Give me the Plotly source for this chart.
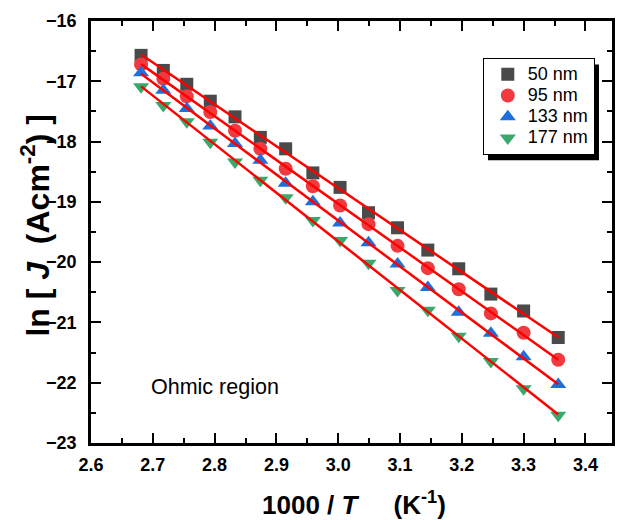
import numpy as np
import plotly.graph_objects as go

# 1000/T (K^-1) measurement points
inv_T = [2.681, 2.717, 2.755, 2.793, 2.833, 2.874, 2.915, 2.959,
         3.003, 3.049, 3.096, 3.145, 3.195, 3.247, 3.300, 3.356]

# ln J for each film thickness
lnJ_50 = [-16.57, -16.82, -17.05, -17.33, -17.59, -17.93, -18.12, -18.52,
          -18.76, -19.18, -19.43, -19.80, -20.11, -20.53, -20.81, -21.25]
lnJ_95 = [-16.72, -16.96, -17.25, -17.51, -17.82, -18.12, -18.45, -18.74,
          -19.06, -19.37, -19.73, -20.10, -20.45, -20.85, -21.17, -21.62]
lnJ_133 = [-16.86, -17.15, -17.45, -17.74, -18.03, -18.31, -18.69, -19.00,
           -19.35, -19.68, -20.03, -20.42, -20.83, -21.18, -21.57, -22.03]
lnJ_177 = [-17.09, -17.40, -17.67, -18.01, -18.34, -18.64, -18.93, -19.31,
           -19.64, -20.02, -20.47, -20.80, -21.23, -21.65, -22.10, -22.54]

series_names = ["50 nm", "95 nm", "133 nm", "177 nm"]
series_values = [lnJ_50, lnJ_95, lnJ_133, lnJ_177]
symbols = ["square", "circle", "triangle-up", "triangle-down"]
colors = ["#4a4a4a", "#f03a3f", "#1e6fdc", "#3aa86a"]
sizes = [13, 14, 14, 14]

x_ticks = [2.6, 2.7, 2.8, 2.9, 3.0, 3.1, 3.2, 3.3, 3.4]
x_tick_text = ["2.6", "2.7", "2.8", "2.9", "3.0", "3.1", "3.2", "3.3", "3.4"]
y_ticks = [-16, -17, -18, -19, -20, -21, -22, -23]

FONT = "Liberation Sans, Arial, sans-serif"

fig = go.Figure()

x_arr = np.array(inv_T)
for name, vals, sym, col, sz in zip(series_names, series_values, symbols, colors, sizes):
    fig.add_trace(go.Scatter(
        x=inv_T, y=vals, mode="markers",
        name=f'<span style="font-size:18px">{name}</span>',
        marker=dict(symbol=sym, color=col, size=sz, line=dict(width=0)),
    ))

# linear Arrhenius fits drawn over the markers
for vals in series_values:
    slope, icpt = np.polyfit(x_arr, np.array(vals), 1)
    xs = [x_arr[0], x_arr[-1]]
    fig.add_trace(go.Scatter(
        x=xs, y=[slope * v + icpt for v in xs], mode="lines",
        line=dict(color="#ff0000", width=2.5), showlegend=False, hoverinfo="skip",
    ))

axis_common = dict(
    showline=True, linecolor="black", linewidth=2.5, mirror="ticks",
    ticks="inside", ticklen=10, tickwidth=2, tickcolor="black",
    showgrid=False, zeroline=False, automargin=False,
    tickfont=dict(family=FONT, size=18, color="black", weight="bold"),
)

fig.update_xaxes(
    range=[2.6, 3.443], tickvals=x_ticks, ticktext=x_tick_text,
    minor=dict(dtick=0.05, ticks="inside", ticklen=5, tickwidth=2, tickcolor="black"),
    ticklabelstandoff=4,
    **axis_common,
)
fig.update_yaxes(
    range=[-23, -16], tickvals=y_ticks,
    minor=dict(dtick=0.5, ticks="inside", ticklen=5, tickwidth=2, tickcolor="black"),
    ticklabelstandoff=8,
    **axis_common,
)

# axis titles as annotations outside the plotting area
fig.add_annotation(
    xref="paper", yref="paper", x=0.505, y=-0.1429,
    xanchor="center", yanchor="middle", showarrow=False,
    text="1000 /&nbsp;<i>T</i>&nbsp;&nbsp;&nbsp;&nbsp;&nbsp;(K<sup>-1</sup>)",
    font=dict(family=FONT, size=26, color="black", weight="bold"),
)
fig.add_annotation(
    xref="paper", yref="paper", x=-0.1068, y=0.516,
    xanchor="center", yanchor="middle", textangle=-90, showarrow=False,
    text="ln [&nbsp;<i>J</i>&nbsp;&nbsp;(Acm<sup>-2</sup>)&nbsp;]",
    font=dict(family=FONT, size=32, color="black", weight="bold"),
)

fig.add_annotation(
    x=2.80, y=-22.07, xref="x", yref="y", text="Ohmic region", showarrow=False,
    font=dict(family=FONT, size=21.5, color="black"),
)

# drop shadow behind the legend box
fig.add_shape(
    type="rect", xref="paper", yref="paper",
    x0=0.762, x1=0.975, y0=0.670, y1=0.897,
    fillcolor="black", line=dict(width=0), layer="above",
)

fig.update_layout(
    width=621, height=520,
    margin=dict(l=91, r=9, t=21, b=77),
    paper_bgcolor="white", plot_bgcolor="white",
    legend=dict(
        x=0.752, y=0.913, xanchor="left", yanchor="top",
        bgcolor="white", bordercolor="black", borderwidth=1,
        font=dict(family=FONT, size=14, color="black"),
        itemwidth=30, tracegroupgap=0, indentation=4,
    ),
)

fig.write_html("out.html")
